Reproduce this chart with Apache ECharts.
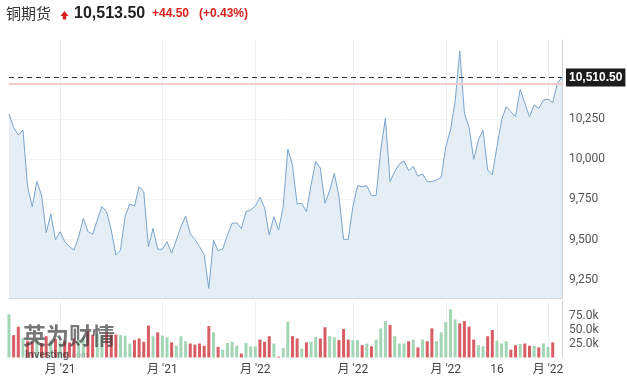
<!DOCTYPE html>
<html>
<head>
<meta charset="utf-8">
<script src="https://cdn.jsdelivr.net/npm/echarts@6/dist/echarts.min.js"></script>
<style>html,body{margin:0;padding:0;background:#fff;}#c{width:627px;height:386px;}</style>
</head>
<body>
<div id="c"></div>
<script>
// Close prices, one per session
const prices = [
10283,10200,10152,10183,9830,9705,9863,9778,9543,9660,
9497,9549,9487,9456,9435,9518,9633,9549,9533,9622,
9705,9674,9560,9404,9435,9647,9722,9709,9830,9799,
9456,9570,9440,9440,9487,9415,9497,9580,9647,9535,
9502,9456,9404,9196,9497,9431,9441,9529,9601,9605,
9568,9674,9685,9709,9764,9699,9529,9643,9560,9705,
10063,9965,9722,9726,9674,9840,9986,9945,9726,9805,
9913,9768,9502,9502,9705,9836,9830,9836,9774,9774,
10059,10256,9861,9924,9971,9990,9930,9955,9896,9909,
9861,9861,9872,9888,10079,10183,10360,10676,10287,10200,
10000,10120,10183,9934,9903,10079,10245,10328,10297,10266,
10437,10350,10266,10339,10318,10370,10375,10354,10474,10510.5
];
// Volume in thousands
const volumes = [
77,40,55,35,30,28,32,26,38,30,
33,28,30,27,34,31,36,47,40,42,
40,44,41,41,40,39,25,31,34,28,
57,38,45,39,36,27,21,38,29,25,
23,25,21,56,45,19,14,26,28,21,
7,26,20,20,32,28,38,25,1.5,17,
64,38,34,16,27,28,37,34,54,38,
36,31,51,32,31,31,22,25,20,32,
52,65,58,38,25,25,29,32,18,32,
29,52,29,45,63,86,68,61,65,55,
32,22,20,38,49,30,25,29,14,22,
24,25,21,21,18,25,19,27,null,null
];
// session direction: 1 up, -1 down
const volDir = [
1,-1,-1,1,-1,-1,1,-1,-1,1,
-1,1,-1,-1,-1,1,1,-1,-1,1,
1,-1,-1,-1,1,1,1,-1,-1,-1,
-1,1,-1,1,1,-1,1,1,1,-1,
-1,-1,-1,-1,1,-1,1,1,1,1,
-1,1,1,1,-1,-1,-1,1,-1,1,
1,-1,-1,1,-1,1,1,-1,-1,1,
1,-1,-1,-1,1,1,-1,1,-1,1,
1,1,-1,1,1,1,-1,1,-1,1,
-1,-1,1,1,1,1,1,-1,-1,-1,
-1,1,1,-1,-1,1,1,1,-1,-1,
1,-1,-1,1,-1,1,1,-1,1,1
];
const tickIndex = [11,33,53,74,94,105,116];
const tickLabels = ["月 '21","月 '21","月 '22","月 '22","月 '22","16","月 '22"];
const priceTicks = [9250,9500,9750,10000,10250];
const volTicks = [25,50,75];
const lastPrice = 10510.5;
const prevClose = 10469;
const headerName = '铜期货';
const headerPrice = '10,513.50';
const headerChange = '+44.50';
const headerPct = '(+0.43%)';

const categories = prices.map((_, i) => String(i));
const isTick = (i) => tickIndex.indexOf(i) >= 0;
const fmtNum = (v) => v.toLocaleString('en-US');

const chart = echarts.init(document.getElementById('c'), null, {renderer: 'canvas'});
const RED = '#d9201c';
const gridLine = '#efefef';
const axisCol = '#cfcfcf';
const labelFont = 'Roboto, "Noto Sans CJK SC", sans-serif';

chart.setOption({
  animation: false,
  backgroundColor: '#fff',
  graphic: [
    {type: 'text', left: 6, top: 6, style: {text: headerName, font: '15px "Noto Sans CJK SC", sans-serif', fill: '#333'}},
    {type: 'polygon', shape: {points: [[60.5,16],[64.5,11],[68.5,16],[66.2,16],[66.2,19.5],[62.8,19.5],[62.8,16]]}, style: {fill: RED}},
    {type: 'text', left: 74, top: 6, style: {text: headerPrice, font: 'bold 16px "Liberation Sans", Arial, sans-serif', fill: '#222'}},
    {type: 'text', left: 152, top: 8, style: {text: headerChange, font: 'bold 12px "Liberation Sans", Arial, sans-serif', fill: RED}},
    {type: 'text', left: 199, top: 8, style: {text: headerPct, font: 'bold 12px "Liberation Sans", Arial, sans-serif', fill: RED}},
    {type: 'text', left: 23, top: 324, z: 100, style: {text: '英为财情', font: 'bold 23px "Noto Sans CJK SC", sans-serif', fill: 'rgba(55,55,55,0.68)'}},
    {type: 'text', left: 25, top: 350, z: 100, style: {text: 'Investing', font: 'bold 10px "Liberation Sans", Arial, sans-serif', fill: 'rgba(45,45,45,0.7)'}},
    {type: 'text', left: 69, top: 351, z: 100, style: {text: '.com', font: '9px "Liberation Sans", Arial, sans-serif', fill: 'rgba(120,120,120,0.5)'}}
  ],
  grid: [
    {left: 9, right: 65, top: 40, bottom: 87.7},
    {left: 9, right: 65, top: 301.5, bottom: 28.5}
  ],
  xAxis: [
    {
      type: 'category', gridIndex: 0, data: categories, boundaryGap: false,
      axisLine: {show: true, lineStyle: {color: axisCol}},
      axisTick: {show: false}, axisLabel: {show: false},
      splitLine: {show: true, interval: (i) => isTick(i), lineStyle: {color: gridLine}}
    },
    {
      type: 'category', gridIndex: 1, data: categories, boundaryGap: false,
      axisLine: {show: false}, axisTick: {show: false},
      axisLabel: {
        show: true, interval: (i) => isTick(i), margin: 6,
        formatter: (v, i) => { const k = tickIndex.indexOf(Number(v)); return k >= 0 ? tickLabels[k] : ''; },
        color: '#444', fontSize: 12, fontFamily: labelFont
      },
      splitLine: {show: true, interval: (i) => isTick(i), lineStyle: {color: gridLine}}
    }
  ],
  yAxis: [
    {
      type: 'value', gridIndex: 0, position: 'right', min: 9134, max: 10744,
      axisLine: {show: true, lineStyle: {color: axisCol}},
      axisTick: {show: false, customValues: priceTicks},
      axisLabel: {customValues: priceTicks, formatter: (v) => fmtNum(v), color: '#555', fontSize: 12, fontFamily: labelFont, margin: 7},
      splitLine: {show: true, lineStyle: {color: '#f4f4f4'}}
    },
    {
      type: 'value', gridIndex: 1, position: 'right', min: 0, max: 100,
      axisLine: {show: true, lineStyle: {color: axisCol}},
      axisTick: {show: false, customValues: volTicks},
      axisLabel: {customValues: volTicks, formatter: (v) => v.toFixed(1) + 'k', color: '#555', fontSize: 12, fontFamily: labelFont, margin: 7},
      splitLine: {show: false}
    }
  ],
  series: [
    {
      type: 'line', xAxisIndex: 0, yAxisIndex: 0, data: prices,
      symbol: 'none', lineStyle: {color: '#7aa5cd', width: 1},
      areaStyle: {color: '#e5edf5', opacity: 1, origin: 'start'},
      markLine: {
        silent: true, symbol: 'none', animation: false,
        data: [
          {yAxis: prevClose, lineStyle: {color: '#f3caca', width: 2, type: 'solid'}, label: {show: false}},
          {yAxis: lastPrice, lineStyle: {color: '#333', width: 1, type: [5, 4]},
            label: {show: true, position: 'end', distance: 4, formatter: () => fmtNum(lastPrice).replace(/\.5$/, '.50'),
              backgroundColor: '#1c1c1c', color: '#fff', fontWeight: 'bold', fontSize: 12,
              fontFamily: '"Liberation Sans", Arial, sans-serif', padding: [3, 3, 3, 3]}}
        ]
      }
    },
    {
      type: 'bar', xAxisIndex: 1, yAxisIndex: 1, barWidth: 3, clip: false,
      data: volumes.map((v, i) => ({value: v, itemStyle: {color: volDir[i] > 0 ? '#a3d6b4' : '#d85c63'}}))
    }
  ]
});
</script>
</body>
</html>
